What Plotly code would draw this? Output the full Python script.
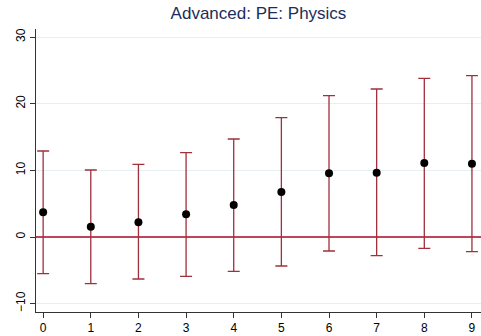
import plotly.graph_objects as go

x_vals = [0, 1, 2, 3, 4, 5, 6, 7, 8, 9]
estimates = [3.7, 1.55, 2.2, 3.4, 4.8, 6.75, 9.55, 9.65, 11.1, 11.0]
upper_ci = [12.9, 10.05, 10.9, 12.65, 14.7, 17.9, 21.2, 22.2, 23.8, 24.2]
lower_ci = [-5.5, -7.0, -6.3, -5.9, -5.15, -4.35, -2.1, -2.8, -1.7, -2.2]
y_ticks = [-10, 0, 10, 20, 30]
title_text = "Advanced: PE: Physics"

err_plus = [u - e for u, e in zip(upper_ci, estimates)]
err_minus = [e - l for e, l in zip(estimates, lower_ci)]

fig = go.Figure()
fig.add_trace(go.Scatter(
    x=x_vals, y=estimates, mode="markers",
    marker=dict(color="black", size=8),
    error_y=dict(type="data", symmetric=False, array=err_plus, arrayminus=err_minus,
                 color="#a0303c", thickness=1.3, width=6),
    showlegend=False,
))

fig.update_layout(
    width=481, height=336,
    margin=dict(l=36, r=0, t=29, b=24),
    paper_bgcolor="white", plot_bgcolor="white",
    font=dict(family="Liberation Sans, Arial, sans-serif", size=12, color="black"),
    title=dict(text=title_text, x=(36 + 481) / 2 / 481, xanchor="center", y=0.962, yanchor="middle",
               font=dict(size=17, color="#1c2d5a")),
    xaxis=dict(range=[-0.15, 9.19], tickmode="array", tickvals=x_vals,
               showgrid=False, zeroline=False, showline=True, linecolor="#333333", linewidth=1,
               ticks="outside", ticklen=5, tickcolor="#333333", tickfont=dict(size=12)),
    yaxis=dict(range=[-11.25, 31.2], tickmode="array", tickvals=y_ticks, tickangle=-90,
               showgrid=True, gridcolor="#e6eff1", gridwidth=1,
               zeroline=True, zerolinecolor="#c0445c", zerolinewidth=1.5,
               showline=True, linecolor="#333333", linewidth=1,
               ticks="outside", ticklen=5, tickcolor="#333333", tickfont=dict(size=12)),
)

fig.write_html("out.html", config={"displayModeBar": False},
               post_script="document.body.style.margin='0';document.body.style.padding='0';")
